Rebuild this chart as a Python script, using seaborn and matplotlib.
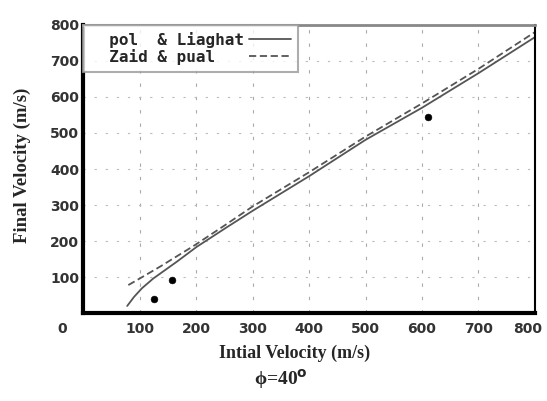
import pandas as pd
import matplotlib.pyplot as plt
import matplotlib.transforms as mtransforms
import seaborn as sns
from matplotlib.ticker import FixedLocator

sns.set_theme(style="white")

# ── Data ──────────────────────────────────────────────────
liaghat_x = [78, 90, 104, 124, 166, 201, 254, 300, 400, 500, 600, 700, 800]
liaghat_y = [20, 45, 69, 96, 143, 184, 238, 284, 380, 481, 570, 666, 766]

pual_x = [80, 100, 136, 195, 250, 300, 400, 500, 600, 700, 800]
pual_y = [78, 96, 129, 186, 243, 296, 391, 490, 582, 678, 780]

exp_x = [125, 157, 611]
exp_y = [39, 92, 544]

x_ticks = [0, 100, 200, 300, 400, 500, 600, 700, 800]
y_ticks = [100, 200, 300, 400, 500, 600, 700, 800]

LAB_1 = "  pol  & Liaghat"
LAB_2 = "  Zaid & pual   "

curves = pd.concat([
    pd.DataFrame({"x": liaghat_x, "y": liaghat_y, "model": LAB_1}),
    pd.DataFrame({"x": pual_x, "y": pual_y, "model": LAB_2}),
])
points = pd.DataFrame({"x": exp_x, "y": exp_y})

fig = plt.figure(figsize=(5.47, 4.01), dpi=100)
ax = fig.add_axes([0.152, 0.219, 0.826, 0.719])

sns.lineplot(data=curves, x="x", y="y", style="model",
             dashes={LAB_1: "", LAB_2: (4, 2)},
             color="#555555", linewidth=1.3, ax=ax, sort=False)
sns.scatterplot(data=points, x="x", y="y", color="black", s=24,
                edgecolor="black", ax=ax, zorder=5)

ax.set_xlim(0, 800)
ax.set_ylim(0, 800)
ax.xaxis.set_major_locator(FixedLocator(x_ticks))
ax.yaxis.set_major_locator(FixedLocator(y_ticks))

# grid: dashed verticals, dotted horizontals
for xv in x_ticks[1:-1]:
    ax.axvline(xv, color="#aaaaaa", lw=0.8, ls=(0, (3, 9)), zorder=0)
for yv in y_ticks[:-1]:
    ax.axhline(yv, color="#bbbbbb", lw=0.8, ls=(0, (2, 8)), zorder=0)

ax.tick_params(axis="x", length=0, pad=6, labelsize=10)
ax.tick_params(axis="y", length=0, pad=3, labelsize=10)
for lab in ax.get_xticklabels() + ax.get_yticklabels():
    lab.set_fontweight("bold")
    lab.set_color("#333333")

# the reference puts "0" and "800" a little left of their ticks
xlabs = ax.get_xticklabels()
for lab, dx in [(xlabs[0], -21), (xlabs[-1], -7)]:
    lab.set_transform(lab.get_transform() +
                      mtransforms.ScaledTranslation(dx / 100, 0, fig.dpi_scale_trans))

ax.set_xlabel("Intial Velocity (m/s)", family="Liberation Serif",
              fontweight="bold", fontsize=13)
ax.set_ylabel("Final Velocity (m/s)", family="Liberation Serif",
              fontweight="bold", fontsize=13.5)
ax.xaxis.label.set_va("center")
ax.yaxis.label.set_va("center")
ax.xaxis.set_label_coords(0.467, -0.139)
ax.yaxis.set_label_coords(-0.135, 0.514)
fig.text(0.514, 0.04, r"ϕ=40$^{\mathbf{o}}$", ha="center", va="baseline",
         family="Liberation Serif", fontweight="bold", fontsize=14)

for side in ["left", "bottom"]:
    ax.spines[side].set_linewidth(3)
    ax.spines[side].set_color("black")
ax.spines["right"].set_linewidth(1.5)
ax.spines["right"].set_color("black")
ax.spines["top"].set_linewidth(2)
ax.spines["top"].set_color("#888888")

leg = ax.legend(loc="upper left", borderaxespad=0, markerfirst=False,
                frameon=True, fancybox=False, handlelength=2.6,
                handletextpad=0.3,
                prop={"family": "DejaVu Sans Mono", "weight": "bold", "size": 11.5},
                labelspacing=0.05, borderpad=0.45)
leg.get_frame().set_edgecolor("#999999")
leg.get_frame().set_linewidth(1.5)

fig.savefig("out.png", dpi=100)
